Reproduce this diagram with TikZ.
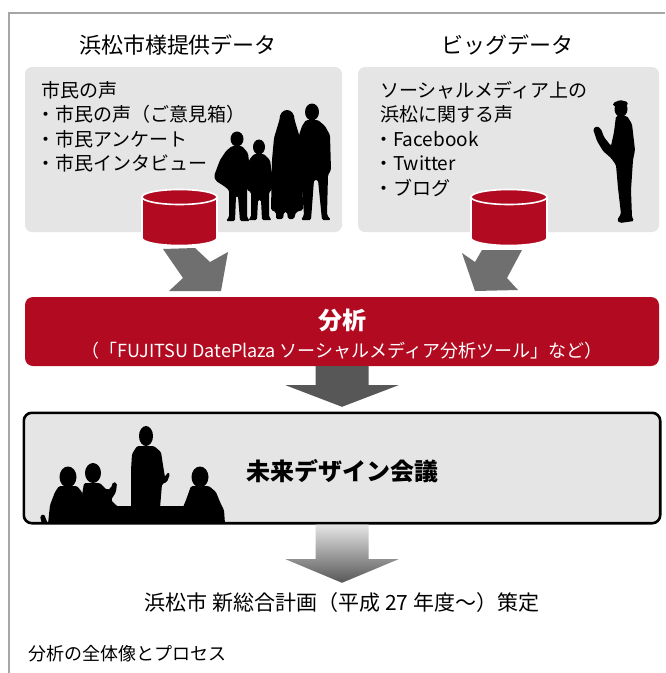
\documentclass[tikz,border=0pt]{standalone}
\usepackage{fontspec}
\setmainfont{Noto Sans CJK JP}
\usetikzlibrary{calc}
\definecolor{brandred}{HTML}{B20B21}
\definecolor{panelgray}{HTML}{E5E5E5}
\definecolor{framegray}{HTML}{A6A6A6}
\definecolor{arrowgray}{HTML}{6F6F6F}
\definecolor{arrowdark}{HTML}{575757}
\newcommand{\setfs}[1]{\fontsize{#1}{#1}\selectfont}
\tikzset{
  panel/.style={fill=panelgray, rounded corners=7pt, draw=none, inner sep=0pt},
  bodytext/.style={font=\setfs{19}, inner sep=0pt, anchor=west, text=black},
  heading/.style={font=\setfs{22}, inner sep=0pt, text=black},
  silhouette/.style={fill=black, rounded corners=1.5pt},
  dbcyl/.style={fill=brandred, draw=white, line width=1.6pt},
  feed/.style={fill=arrowgray},
}
\begin{document}
\begin{tikzpicture}[x=1pt,y=-1pt]
\useasboundingbox (0,0) rectangle (665,673);
\fill[white] (0,0) rectangle (665,673);
\draw[framegray, line width=1.4pt] (9,673) -- (9,13) -- (665,13);

% source headings
\node[heading] (srcL) at (178,45) {浜松市様提供データ};
\node[heading] (srcR) at (507,45) {ビッグデータ};

% source panels
\node[panel, minimum width=317pt, minimum height=165pt] (boxL) at (183.5,149.5) {};
\node[panel, minimum width=301pt, minimum height=165pt] (boxR) at (508.5,149.5) {};

\node[bodytext] (l1) at (41,90) {市民の声};
\node[bodytext] (l2) at (36,114.5) {・市民の声（ご意見箱）};
\node[bodytext] (l3) at (36,139) {・市民アンケート};
\node[bodytext] (l4) at (36,163.5) {・市民インタビュー};

\node[bodytext] (r1) at (380,90) {ソーシャルメディア上の};
\node[bodytext] (r2) at (380,114.5) {浜松に関する声};
\node[bodytext] (r3) at (374,139) {・Facebook};
\node[bodytext] (r4) at (374,163.5) {・Twitter};
\node[bodytext] (r5) at (374,188) {・ブログ};

% family
\fill[silhouette] (237,139) ellipse[x radius=6.5pt, y radius=7.5pt];
\fill[silhouette] (232,146) -- (242,146) -- (248,153) -- (250,170) -- (249,186) -- (247,190)
  -- (247,217) -- (250,221) -- (240,221) -- (238,196) -- (236,196) -- (235,221) -- (226,221)
  -- (229,217) -- (229,190) -- (224,186) -- (216,181) -- (214,176) -- (220,160) -- (226,151) -- cycle;
\fill[silhouette] (259,147) ellipse[x radius=6pt, y radius=7.5pt];
\fill[silhouette] (254,154) -- (264,154) -- (270,160) -- (273,180) -- (272,190) -- (269,192)
  -- (269,217) -- (272,220) -- (262,220) -- (261,200) -- (258,200) -- (257,220) -- (248,220)
  -- (251,217) -- (251,192) -- (247,190) -- (247,170) -- (249,160) -- cycle;
\fill[silhouette] (287,119) ellipse[x radius=7.5pt, y radius=9pt];
\fill[silhouette] (280,118) -- (294,118) -- (297,128) -- (300,138) -- (302,160) -- (303,210)
  -- (296,212) -- (294,219) -- (288,219) -- (287,212) -- (284,212) -- (283,219) -- (276,219)
  -- (276,212) -- (271,210) -- (272,160) -- (274,138) -- (277,128) -- cycle;
\fill[silhouette] (312,112) ellipse[x radius=7pt, y radius=8.5pt];
\fill[silhouette] (306,120) -- (318,120) -- (325,126) -- (330,135) -- (331,170) -- (328,175)
  -- (327,215) -- (331,220) -- (322,220) -- (318,180) -- (314,180) -- (311,220) -- (301,220)
  -- (304,215) -- (301,175) -- (298,170) -- (299,135) -- (302,126) -- cycle;

% reader
\fill[silhouette] (621,109) ellipse[x radius=6.5pt, y radius=8pt];
\fill[silhouette] (613,103) -- (620,100) -- (628,102) -- (627,106) -- (613,106) -- cycle;
\fill[silhouette] (616,116) -- (627,116) -- (632,124) -- (635,150) -- (633,160) -- (631,190)
  -- (632,217) -- (634,221) -- (620,223) -- (617,220) -- (621,214) -- (618,188) -- (616,165)
  -- (611,158) -- (603,151) -- (597,141) -- (593,129) -- (597,126) -- (601,129) -- (604,137)
  -- (611,146) -- (614,132) -- cycle;

% feeds into the analysis bar
\coordinate (cylL) at (179.5,197);
\coordinate (cylR) at (509,197);
\fill[feed] ($(cylL)+(-16.5,52)$) -- ($(cylL)+(15.5,51)$) -- ($(cylL)+(30.5,65)$) -- ($(cylL)+(48.5,55)$)
  -- ($(cylL)+(41.5,94)$) -- ($(cylL)+(-10.5,94)$) -- ($(cylL)+(3.5,81)$) -- cycle;
\fill[feed] ($(cylR)+(-27,53)$) -- ($(cylR)+(13,53)$) -- ($(cylR)+(-2,81)$) -- ($(cylR)+(9,93)$)
  -- ($(cylR)+(-34,94)$) -- ($(cylR)+(-47,56)$) -- ($(cylR)+(-34,65)$) -- cycle;

% databases
\foreach \c/\r in {cylL/37.5, cylR/38} {
  \draw[dbcyl] ($(\c)+(-\r,0)$) -- ($(\c)+(-\r,41)$)
    arc[start angle=180, end angle=360, x radius=\r pt, y radius=7.5pt]
    -- ($(\c)+(\r,0)$) -- cycle;
  \draw[dbcyl] (\c) ellipse[x radius=\r pt, y radius=7.5pt];
}

% analysis bar
\node[fill=brandred, rounded corners=8pt, minimum width=634pt, minimum height=69pt, inner sep=0pt] (bar) at (342,331.5) {};
\node[font=\bfseries\setfs{24}, text=white, inner sep=0pt] (barT) at (342,320) {分析};
\node[font=\setfs{18}, text=white, inner sep=0pt] (barS) at (342,351) {（「FUJITSU DatePlaza ソーシャルメディア分析ツール」など）};

% meeting panel
\node[fill=panelgray, rounded corners=8pt, minimum width=636pt, minimum height=110pt, inner sep=0pt] (meet) at (342,468) {};
\begin{scope}
  \clip[rounded corners=8pt] (meet.north west) rectangle (meet.south east);
  \fill[silhouette] (68,477) ellipse[x radius=8.5pt, y radius=10.5pt];
  \fill[silhouette] (59,486) -- (77,486) -- (82,492) -- (85,505) -- (90,517) -- (95,524)
    -- (48,524) -- (50,505) -- (55,492) -- cycle;
  \fill[silhouette] (40,516) -- (44,514) -- (48,524) -- (42,524) -- cycle;
  \fill[silhouette] (93,473) ellipse[x radius=8pt, y radius=10pt];
  \fill[silhouette] (84,483) -- (100,483) -- (107,490) -- (111,488) -- (113,482) -- (117,483)
    -- (116,492) -- (111,500) -- (117,506) -- (124,512) -- (127,524) -- (80,524) -- (82,495) -- cycle;
  \fill[silhouette] (146,436) ellipse[x radius=7pt, y radius=10pt];
  \fill[silhouette] (137,446) -- (154,446) -- (161,452) -- (163,465) -- (165,477) -- (168,472)
    -- (170,474) -- (167,482) -- (162,484) -- (160,508) -- (131,508) -- (131,470) -- (132,454) -- cycle;
  \fill[silhouette] (85,506) rectangle (192,524);
  \fill[silhouette] (200,477) ellipse[x radius=8.5pt, y radius=10.5pt];
  \fill[silhouette] (191,486) -- (209,486) -- (216,492) -- (220,502) -- (224,510) -- (225,524)
    -- (178,524) -- (181,512) -- (186,500) -- cycle;
\end{scope}
\draw[line width=2.6pt, rounded corners=8pt] (meet.north west) rectangle (meet.south east);
\node[font=\bfseries\setfs{24}, inner sep=0pt] (meetT) at (342,471) {未来デザイン会議};

% bar to meeting
\fill[arrowdark] ($(bar.south)+(-26.5,0)$) -- ($(bar.south)+(26.5,0)$) -- ($(bar.south)+(26.5,19)$)
  -- ($(bar.south)+(56.5,19)$) -- ($(meet.north)+(0,-6)$) -- ($(bar.south)+(-56.5,19)$)
  -- ($(bar.south)+(-26.5,19)$) -- cycle;

% meeting to plan
\node[font=\setfs{21}, inner sep=0pt] (plan) at (342,603) {浜松市 新総合計画（平成 27 年度〜）策定};
\shade[top color=panelgray, bottom color=arrowdark]
  ($(meet.south)+(-26.5,1.5)$) -- ($(meet.south)+(26.5,1.5)$) -- ($(meet.south)+(26.5,36)$)
  -- ($(meet.south)+(56.5,36)$) -- ($(plan.north)+(0,-10)$) -- ($(meet.south)+(-56.5,36)$)
  -- ($(meet.south)+(-26.5,36)$) -- cycle;

\node[font=\setfs{18}, inner sep=0pt, anchor=west] (cap) at (28,654) {分析の全体像とプロセス};
\end{tikzpicture}
\end{document}
